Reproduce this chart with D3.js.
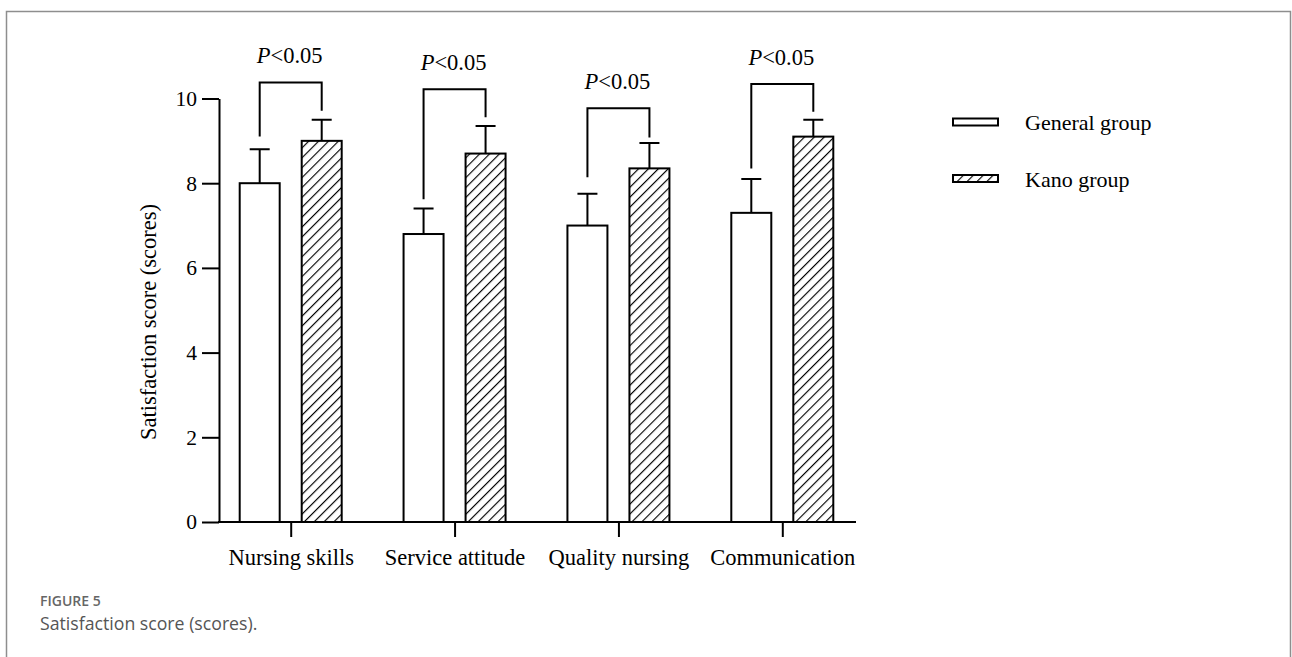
<!DOCTYPE html>
<html>
<head>
<meta charset="utf-8">
<script src="https://cdn.jsdelivr.net/npm/d3@7"></script>
<style>
  html, body { margin: 0; padding: 0; background: #fff; }
  svg { display: block; }
</style>
</head>
<body>
<script>
// ---- data ----
const categories = ["Nursing skills", "Service attitude", "Quality nursing", "Communication"];
const groups = ["General group", "Kano group"];
const generalMean = [8.0, 6.8, 7.0, 7.3];
const generalSD   = [0.8, 0.6, 0.75, 0.8];
const kanoMean    = [9.0, 8.7, 8.35, 9.1];
const kanoSD      = [0.5, 0.65, 0.6, 0.4];
const bracketTop      = [10.38, 10.22, 9.77, 10.34];
const bracketLeftEnd  = [9.1, 7.62, 8.14, 8.35];
const bracketRightEnd = [9.71, 9.56, 9.08, 9.69];
const pLabels = ["<0.05", "<0.05", "<0.05", "<0.05"];
const yTicks = [0, 2, 4, 6, 8, 10];
const captionTitle = "FIGURE 5";
const captionText = "Satisfaction score (scores).";

const W = 1292, H = 657;
const svg = d3.select("body").append("svg").attr("width", W).attr("height", H);

// frame
svg.append("path").attr("d", `M6.5,${H} V11.5 H1290.5 V${H}`)
  .attr("fill", "none").attr("stroke", "#8e8e8e").attr("stroke-width", 1.5);

// hatch pattern
const defs = svg.append("defs");
const pat = defs.append("pattern").attr("id", "hatch").attr("patternUnits", "userSpaceOnUse")
  .attr("width", 7).attr("height", 7).attr("patternTransform", "rotate(45)");
pat.append("rect").attr("width", 7).attr("height", 7).attr("fill", "#fff");
pat.append("line").attr("x1", 0).attr("y1", 0).attr("x2", 0).attr("y2", 7)
  .attr("stroke", "#000").attr("stroke-width", 2.3);

const serif = "'Liberation Serif', 'Times New Roman', serif";
const y = d3.scaleLinear().domain([0, 10]).range([522, 98.5]);
const x = d3.scalePoint().domain(categories).range([290.7, 782.3]);
const xi = d3.scaleBand().domain(groups).range([-51, 51]).paddingInner(0.355);
const axisLeftX = 219, axisRightX = 856;

const data = categories.map((c, i) => ({
  cat: c, i,
  vals: [
    { g: groups[0], m: generalMean[i], sd: generalSD[i] },
    { g: groups[1], m: kanoMean[i], sd: kanoSD[i] }
  ]
}));

const g = svg.append("g");
const cg = g.selectAll("g.cat").data(data).join("g").attr("class", "cat")
  .attr("transform", d => `translate(${x(d.cat)},0)`);

// bars
cg.selectAll("rect.bar").data(d => d.vals).join("rect").attr("class", "bar")
  .attr("x", d => xi(d.g)).attr("width", xi.bandwidth())
  .attr("y", d => y(d.m)).attr("height", d => y(0) - y(d.m))
  .attr("fill", d => d.g === groups[1] ? "url(#hatch)" : "#fff")
  .attr("stroke", "#000").attr("stroke-width", 2);

// error bars
cg.selectAll("path.err").data(d => d.vals).join("path").attr("class", "err")
  .attr("d", d => {
    const cx = xi(d.g) + xi.bandwidth() / 2;
    return `M${cx},${y(d.m)} V${y(d.m + d.sd)} M${cx - 10},${y(d.m + d.sd)} H${cx + 10}`;
  })
  .attr("fill", "none").attr("stroke", "#000").attr("stroke-width", 2);

// brackets
cg.append("path")
  .attr("d", d => {
    const lx = xi(groups[0]) + xi.bandwidth() / 2;
    const rx = xi(groups[1]) + xi.bandwidth() / 2;
    return `M${lx},${y(bracketLeftEnd[d.i])} V${y(bracketTop[d.i])} H${rx} V${y(bracketRightEnd[d.i])}`;
  })
  .attr("fill", "none").attr("stroke", "#000").attr("stroke-width", 2);

const pt = cg.append("text")
  .attr("x", -1).attr("y", d => y(bracketTop[d.i]) - 19)
  .attr("text-anchor", "middle").attr("font-family", serif).attr("font-size", 22.5).attr("fill", "#000");
pt.append("tspan").attr("font-style", "italic").text("P");
pt.append("tspan").text(d => pLabels[d.i]);

// y axis
const yAxis = d3.axisLeft(y).tickValues(yTicks).tickSize(17).tickSizeOuter(0).tickPadding(5).tickFormat(d3.format("d"));
const ya = svg.append("g").attr("transform", `translate(${axisLeftX},0)`).call(yAxis);
ya.select(".domain").attr("stroke", "#000").attr("stroke-width", 2);
ya.selectAll(".tick line").attr("stroke", "#000").attr("stroke-width", 2);
ya.selectAll(".tick text").attr("font-family", serif).attr("font-size", 21.5).attr("fill", "#000");

// x axis
const xAxis = d3.axisBottom(x).tickSize(15).tickSizeOuter(0).tickPadding(12);
const xa = svg.append("g").attr("transform", `translate(0,${y(0)})`).call(xAxis);
xa.select(".domain").attr("d", `M${axisLeftX - 1},0 H${axisRightX}`).attr("stroke", "#000").attr("stroke-width", 2);
xa.selectAll(".tick line").attr("stroke", "#000").attr("stroke-width", 2);
xa.selectAll(".tick text").attr("font-family", serif).attr("font-size", 22.5).attr("fill", "#000");

// y label
svg.append("text").attr("transform", `translate(156,322) rotate(-90)`)
  .attr("text-anchor", "middle").attr("font-family", serif).attr("font-size", 22.5).attr("fill", "#000")
  .text("Satisfaction score (scores)");

// legend
const leg = svg.append("g").selectAll("g").data(groups).join("g")
  .attr("transform", (d, i) => `translate(953,${118.5 + i * 56.5})`);
leg.append("rect").attr("width", 45).attr("height", 7)
  .attr("fill", (d, i) => i === 1 ? "url(#hatch)" : "#fff")
  .attr("stroke", "#000").attr("stroke-width", 2);
leg.append("text").attr("x", 72).attr("y", 11.5)
  .attr("font-family", serif).attr("font-size", 22).attr("fill", "#000").text(d => d);

// caption
svg.append("text").attr("x", 40).attr("y", 606).attr("font-family", "'Open Sans', sans-serif")
  .attr("font-size", 14).attr("font-weight", 600).attr("fill", "#666").text(captionTitle);
svg.append("text").attr("x", 40).attr("y", 629.5).attr("font-family", "'Open Sans', sans-serif")
  .attr("font-size", 17.7).attr("fill", "#555").text(captionText);
</script>
</body>
</html>
